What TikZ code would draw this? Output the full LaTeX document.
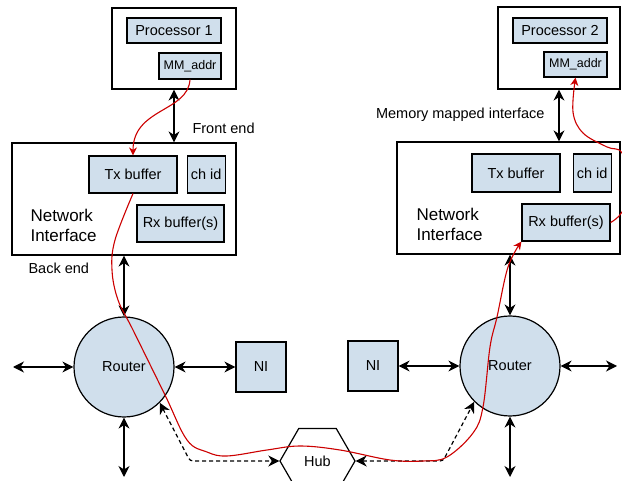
\documentclass[tikz,border=0pt]{standalone}
\usepackage{fontspec}
\setmainfont{Liberation Sans}
\usetikzlibrary{positioning, arrows.meta, shapes.geometric}
\definecolor{boxblue}{HTML}{D0DFEC}
\definecolor{pathred}{HTML}{CC0000}
\tikzset{
>={Stealth[length=11pt,width=11pt,inset=3.5pt]}, % heavy arrow heads
every node/.style={font=\fontsize{14.5}{17}\selectfont}, % default label font
outer/.style={draw=black, fill=white, line width=1.2pt, inner sep=0pt}, % white container boxes
block/.style={draw=black, fill=boxblue, line width=1.2pt, inner sep=0pt}, % blue inner boxes
router/.style={circle, draw=black, fill=boxblue, line width=1.2pt, minimum size=100pt, inner sep=0pt},
hubnode/.style={regular polygon, regular polygon sides=6, draw=black, line width=1.2pt, minimum size=75pt, inner sep=0pt},
link/.style={<->, line width=1.3pt, black}, % solid two-way links
hublink/.style={<->, line width=1.2pt, black, dash pattern=on 4pt off 3pt, rounded corners=3pt}, % dashed links to the hub
datapath/.style={-{Stealth[length=8pt,width=8pt,inset=2.5pt]}, pathred, line width=1.1pt}, % red data flow
bigtext/.style={font=\fontsize{17}{20}\selectfont, align=left, anchor=west},
smalltext/.style={font=\fontsize{12.5}{15}\selectfont},
}
\begin{document}
\begin{tikzpicture}[x=1pt, y=-1pt]
\clip (0,0) rectangle (622,481);

% left side
\node[outer, minimum width=124pt, minimum height=81pt] (proc1box) at (174,48.5) {};
\node[block, minimum width=94pt, minimum height=25pt] (proc1) at (174,30.5) {Processor 1};
\node[block, smalltext, minimum width=62pt, minimum height=26pt] (mm1) at (190,66) {MM\_addr};

\node[outer, minimum width=224pt, minimum height=112pt] (ni1) at (124,199) {};
\node[block, minimum width=88pt, minimum height=37pt] (tx1) at (133,174.5) {Tx buffer};
\node[block, minimum width=38pt, minimum height=37pt, right=9pt of tx1] (chid1) {ch id};
\node[block, minimum width=87pt, minimum height=37pt] (rx1) at (180.5,223.5) {Rx buffer(s)};
\node[bigtext] (ni1text) at (27,225) {Network\\Interface};

\node[anchor=west] (frontend) at (189,128) {Front end};
\node[anchor=west] (backend) at (25,268) {Back end};

\node[router] (router1) at (124,367) {Router};
\node[block, minimum size=50pt] (nis1) at (261,367) {NI};

% right side
\node[outer, minimum width=122pt, minimum height=82pt] (proc2box) at (559,48) {};
\node[block, minimum width=94pt, minimum height=25pt] (proc2) at (560,30.5) {Processor 2};
\node[block, smalltext, minimum width=63pt, minimum height=25pt] (mm2) at (575.5,64.5) {MM\_addr};

\node[outer, minimum width=223pt, minimum height=112pt] (ni2) at (508.5,198) {};
\node[block, minimum width=88pt, minimum height=38pt] (tx2) at (516,173) {Tx buffer};
\node[block, minimum width=38pt, minimum height=38pt, right=12pt of tx2] (chid2) {ch id};
\node[block, minimum width=88pt, minimum height=37pt] (rx2) at (566,222.5) {Rx buffer(s)};
\node[bigtext] (ni2text) at (413,224) {Network\\Interface};

\node[anchor=east] (mmif) at (548,115) {Memory mapped interface};

\node[router] (router2) at (510,366) {Router};
\node[block, minimum size=50pt] (nis2) at (373,366) {NI};

% hub
\node[hubnode] (hub) at (317.5,461) {Hub};

% free ends
\coordinate (r1w) at (13,367);
\coordinate (r1s) at (124,477);
\coordinate (r2e) at (617,366);
\coordinate (r2s) at (510,477);
\coordinate (bend1) at (190,461);
\coordinate (bend2) at (443,461);

\draw[link] (proc1box.south) -- (proc1box.south |- ni1.north);
\draw[link] (proc2box.south) -- (proc2box.south |- ni2.north);
\draw[link] (ni1.south) -- (router1.north);
\draw[link] (router2.north |- ni2.south) -- (router2.north);
\draw[link] (r1w) -- (router1.west);
\draw[link] (router1.east) -- (nis1.west);
\draw[link] (router1.south) -- (r1s);
\draw[link] (nis2.east) -- (router2.west);
\draw[link] (router2.east) -- (r2e);
\draw[link] (router2.south) -- (r2s);

\draw[hublink] (router1.-45) -- (bend1) -- (hub.west);
\draw[hublink] (hub.east) -- (bend2) -- (router2.-135);

% data flow
\draw[datapath] (mm1.south) .. controls (188,112) and (133,108) .. (tx1.north);
\draw[datapath] plot[smooth, tension=0.6] coordinates {(tx1.south) (115,240) (112,270) (118,300) (133,330) (165,395) (187,440) (207,452) (227,456) (267,450) (300,446) (340,450) (390,460) (423,461) (447,457) (473,433) (483,407) (490,347) (497,317) (508,267) (rx2.south west)};
\draw[datapath] plot[smooth, tension=0.6] coordinates {(rx2.east) (622,212) (630,185) (622,153) (607,147) (583,133) (573,112) (mm2.south)};
\end{tikzpicture}
\end{document}
